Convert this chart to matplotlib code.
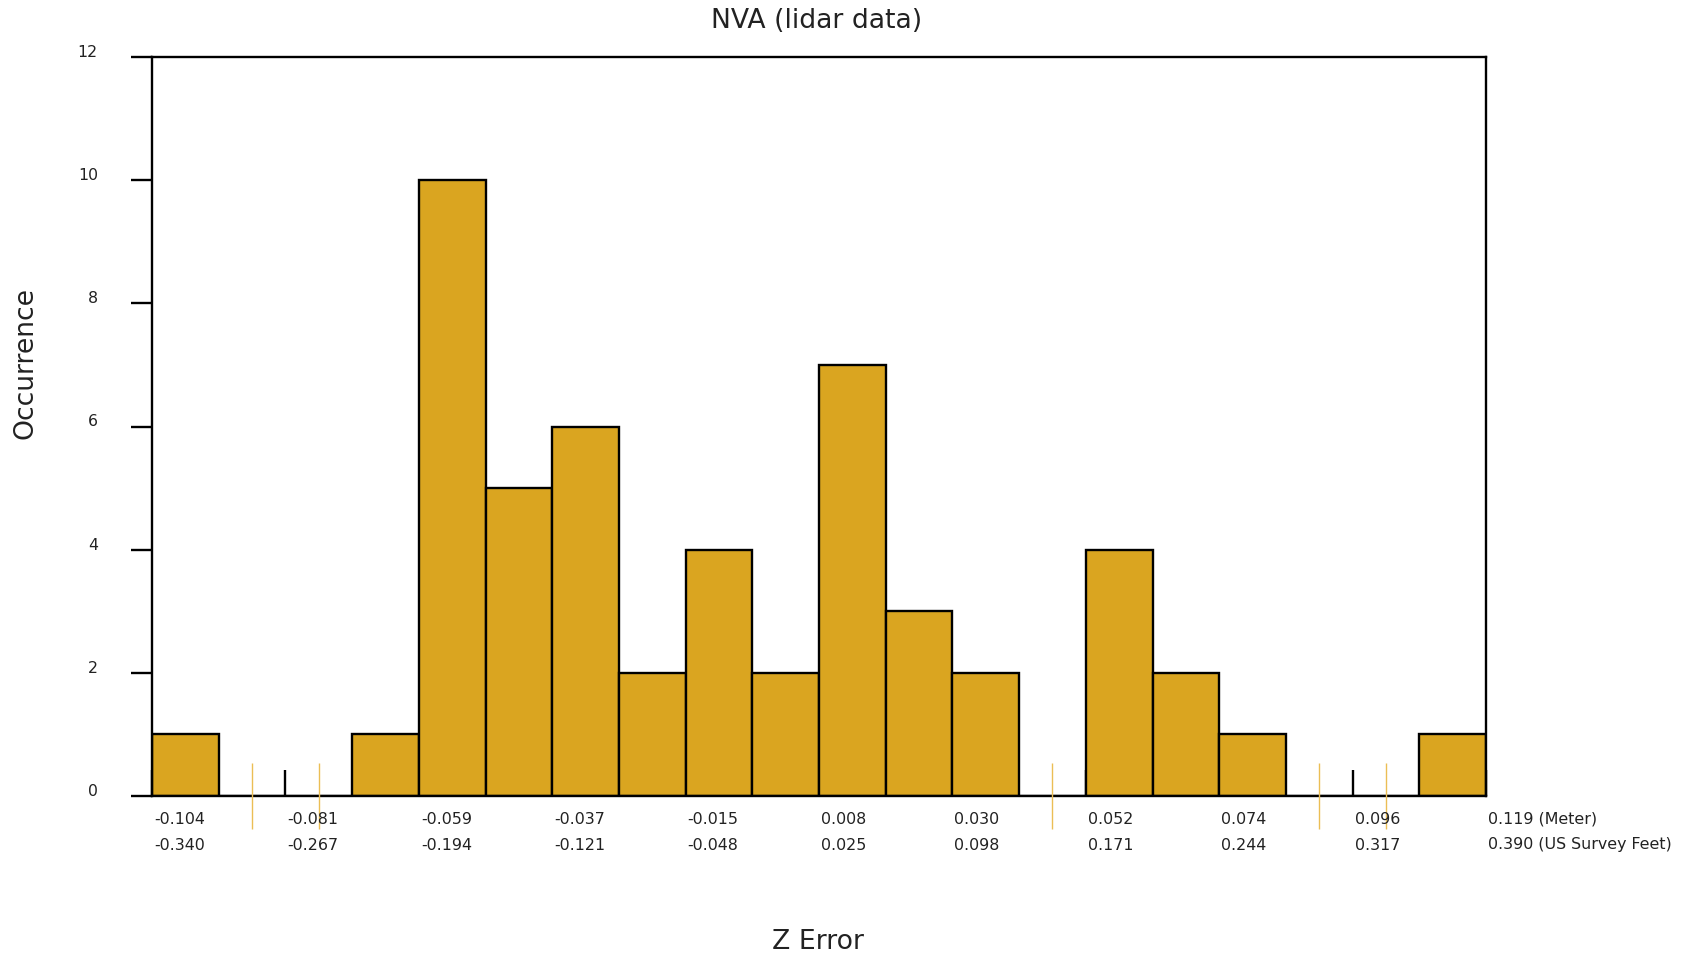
import numpy as np
import matplotlib.pyplot as plt
import matplotlib.transforms as mtransforms

# dados do histograma (20 classes)
x_min, x_max = -0.104, 0.119
contagens = [1, 0, 0, 1, 10, 5, 6, 2, 4, 2, 7, 3, 2, 0, 4, 2, 1, 0, 0, 1]
rotulos_metro = ["-0.104", "-0.081", "-0.059", "-0.037", "-0.015", "0.008",
                 "0.030", "0.052", "0.074", "0.096", "0.119 (Meter)"]
rotulos_pes = ["-0.340", "-0.267", "-0.194", "-0.121", "-0.048", "0.025",
               "0.098", "0.171", "0.244", "0.317", "0.390 (US Survey Feet)"]
y_ticks = [0, 2, 4, 6, 8, 10, 12]

cor_barra = "#DAA520"
cor_texto = "#222222"

bordas = np.linspace(x_min, x_max, len(contagens) + 1)
largura = bordas[1] - bordas[0]
centros = bordas[:-1] + largura / 2

fig = plt.figure(figsize=(16.94, 9.57), dpi=100)
ax = fig.add_axes([152 / 1694, 1 - 796 / 957, 1334 / 1694, 739 / 957])

ax.bar(bordas[:-1], contagens, width=largura, align="edge",
       color=cor_barra, edgecolor="black", linewidth=1.7, zorder=2)

# marcas das classes vazias
vazias = [c for c, n in zip(centros, contagens) if n == 0]
ax.vlines(vazias, -0.54, 0.54, color="#EBBE55", linewidth=1, clip_on=False, zorder=3)

ax.set_xlim(x_min, x_max)
ax.set_ylim(0, 12)

for s in ax.spines.values():
    s.set_linewidth(1.7)

ax.set_xticks(bordas[::2])
ax.set_xticklabels([])
ax.tick_params(axis="x", direction="in", length=18.5, width=1.7)

ax.set_yticks(y_ticks)
ax.set_yticklabels([str(v) for v in y_ticks], fontsize=11.3, color=cor_texto)
ax.tick_params(axis="y", direction="out", length=15, width=1.7, pad=24)
for lab in ax.get_yticklabels():
    lab.set_va("baseline")

# dois rótulos por marca (metros e pés)
trans = ax.get_xaxis_transform()
for x, rm, rp in zip(bordas[::2], rotulos_metro, rotulos_pes):
    off1 = mtransforms.offset_copy(trans, fig=fig, x=2, y=-23, units="dots")
    off2 = mtransforms.offset_copy(trans, fig=fig, x=2, y=-49, units="dots")
    ax.text(x, 0, rm, transform=off1, ha="left", va="center", fontsize=11.4, color=cor_texto)
    ax.text(x, 0, rp, transform=off2, ha="left", va="center", fontsize=11.4, color=cor_texto)

fig.text(817 / 1694, 1 - 21 / 957, "NVA (lidar data)", ha="center", va="center",
         fontsize=19.2, color=cor_texto)
fig.text(818 / 1694, 1 - 942 / 957, "Z Error", ha="center", va="center",
         fontsize=19.2, color=cor_texto)
fig.text(26 / 1694, 1 - 363 / 957, "Occurrence", rotation=90, ha="center", va="center",
         fontsize=19.2, color=cor_texto)

fig.savefig("out.png", dpi=100, facecolor="white")
